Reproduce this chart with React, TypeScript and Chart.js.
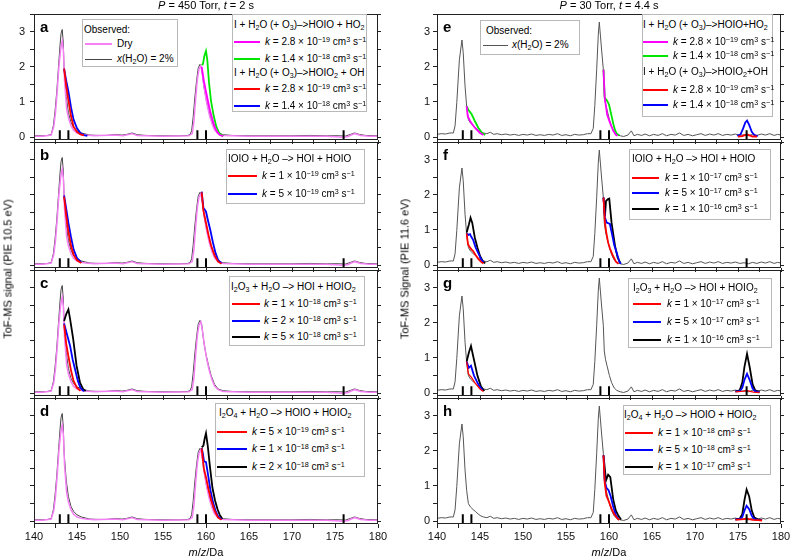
import React, { useEffect, useRef } from 'react';
import { Chart, registerables } from 'chart.js';

Chart.register(...registerables);
const FONT = '"Liberation Sans", Arial, Helvetica, sans-serif';
Chart.defaults.font.family = FONT;
Chart.defaults.font.size = 11;
Chart.defaults.color = '#111';

type Pt = [number, number];

// ---------- axis ticks ----------
const xTicks = [140, 142.5, 145, 147.5, 150, 152.5, 155, 157.5, 160, 162.5, 165, 167.5, 170, 172.5, 175, 177.5, 180];
const xTickLabels = ['140', '', '145', '', '150', '', '155', '', '160', '', '165', '', '170', '', '175', '', '180'];
const yTicks = [0, 0.5, 1, 1.5, 2, 2.5, 3, 3.5];
const yTickLabels = ['0', '', '1', '', '2', '', '3', ''];
const markerMasses = [143, 144, 159, 160, 176];

// ---------- observed spectra ----------
const leftWet: Pt[] = [[140, 0.04], [141, 0.04], [141.6, 0.05], [142, 0.08], [142.25, 0.32], [142.45, 0.75], [142.64, 1.27], [142.85, 2.0], [143.02, 2.59], [143.15, 2.95], [143.28, 3.06], [143.4, 2.7], [143.5, 1.95], [143.75, 1.15], [144, 0.7], [144.3, 0.42], [144.6, 0.28], [145, 0.18], [145.5, 0.12], [146, 0.09], [146.5, 0.06], [147.5, 0.05], [148.5, 0.05], [149.5, 0.08], [150.2, 0.06], [150.8, 0.08], [151.4, 0.12], [152, 0.07], [153, 0.05], [155, 0.04], [157, 0.04], [157.9, 0.05], [158.15, 0.08], [158.33, 0.18], [158.5, 0.55], [158.72, 1.17], [158.9, 1.6], [159.1, 1.97], [159.3, 2.07], [159.5, 1.95], [159.75, 1.45], [160, 1.1], [160.3, 0.78], [160.6, 0.5], [161, 0.25], [161.4, 0.12], [162, 0.07], [163, 0.05], [165, 0.04], [168, 0.04], [170, 0.04], [172, 0.05], [174, 0.04], [175.5, 0.04], [176.2, 0.03], [176.8, 0.08], [177.3, 0.12], [177.8, 0.08], [178.5, 0.05], [180, 0.04]];
const leftDry: Pt[] = [[140, 0.03], [141, 0.03], [142, 0.06], [142.3, 0.3], [142.5, 0.7], [142.7, 1.3], [142.9, 2.0], [143.1, 2.5], [143.28, 2.73], [143.42, 2.45], [143.55, 1.6], [143.8, 0.8], [144, 0.55], [144.3, 0.33], [144.6, 0.2], [145, 0.12], [145.5, 0.08], [146, 0.06], [147, 0.04], [149.5, 0.06], [150.3, 0.04], [151.4, 0.1], [152, 0.05], [155, 0.03], [158, 0.04], [158.4, 0.1], [158.6, 0.45], [158.8, 1.1], [159, 1.65], [159.2, 1.95], [159.4, 2.03], [159.6, 1.75], [159.85, 1.3], [160.1, 0.95], [160.4, 0.62], [160.7, 0.38], [161, 0.2], [161.4, 0.1], [162, 0.05], [165, 0.03], [170, 0.03], [174, 0.03], [176, 0.0], [176.5, 0.02], [177.3, 0.1], [178, 0.05], [179, 0.03], [180, 0.03]];
const rightWet: Pt[] = [[140, 0.08], [140.5, 0.1], [141, 0.09], [141.5, 0.12], [141.9, 0.12], [142.1, 0.32], [142.3, 0.98], [142.6, 2.2], [142.9, 2.76], [143.05, 2.4], [143.26, 1.45], [143.45, 0.87], [143.65, 0.5], [143.9, 0.4], [144.2, 0.33], [144.5, 0.27], [144.8, 0.2], [145.1, 0.15], [145.4, 0.12], [145.8, 0.1], [146.2, 0.14], [146.6, 0.08], [147, 0.1], [147.5, 0.07], [148, 0.09], [148.5, 0.06], [149, 0.08], [149.5, 0.05], [150, 0.08], [150.5, 0.06], [151, 0.09], [151.5, 0.05], [152, 0.07], [152.5, 0.05], [153, 0.08], [153.5, 0.06], [154, 0.1], [154.5, 0.05], [155, 0.07], [155.5, 0.04], [156, 0.08], [156.5, 0.06], [157, 0.07], [157.5, 0.1], [157.9, 0.1], [158.17, 0.25], [158.35, 0.9], [158.57, 1.93], [158.75, 2.9], [158.87, 3.27], [159.0, 2.9], [159.15, 2.45], [159.34, 1.93], [159.45, 1.2], [159.6, 0.95], [159.8, 0.75], [160.05, 0.5], [160.3, 0.3], [160.6, 0.15], [160.9, 0.08], [161.3, 0.04], [161.7, 0.02], [162.2, 0.06], [162.6, 0.18], [162.9, 0.04], [163.3, 0.08], [163.8, 0.05], [164.2, 0.09], [164.7, 0.04], [165.2, 0.08], [165.7, 0.05], [166.2, 0.1], [166.7, 0.04], [167.2, 0.08], [167.7, 0.06], [168.2, 0.12], [168.7, 0.05], [169.2, 0.08], [169.7, 0.04], [170.2, 0.07], [170.7, 0.1], [171.2, 0.05], [171.7, 0.09], [172.2, 0.06], [172.7, 0.1], [173.2, 0.05], [173.7, 0.08], [174.2, 0.06], [174.7, 0.09], [175.2, 0.05], [175.7, 0.07], [176.2, 0.04], [176.7, 0.08], [177.2, 0.05], [177.7, 0.09], [178.2, 0.06], [178.7, 0.1], [179.2, 0.05], [179.6, 0.08], [180, 0.06]];

// ---------- model curves, 450 Torr ----------
const aMagenta: Pt[] = [[159.5, 2.0], [159.75, 1.6], [160, 1.3], [160.25, 1.0], [160.5, 0.72], [160.75, 0.5], [161, 0.3], [161.3, 0.15], [161.6, 0.06], [162, 0.03]];
const aGreen: Pt[] = [[159.5, 2.05], [159.65, 2.08], [159.8, 2.3], [160, 2.45], [160.15, 2.2], [160.35, 1.55], [160.6, 1.0], [160.9, 0.6], [161.2, 0.3], [161.5, 0.14], [161.8, 0.06], [162, 0.03]];
const aRed: Pt[] = [[143.5, 1.95], [143.75, 1.45], [144, 1.05], [144.3, 0.6], [144.6, 0.3], [145, 0.15], [145.4, 0.08], [145.8, 0.05]];
const aBlue: Pt[] = [[143.5, 1.95], [143.75, 1.6], [144, 1.3], [144.3, 0.85], [144.6, 0.5], [145, 0.25], [145.4, 0.12], [145.8, 0.06], [146.2, 0.04]];
const bRed1: Pt[] = [[143.5, 1.95], [143.75, 1.4], [144, 0.95], [144.3, 0.55], [144.6, 0.3], [145, 0.14], [145.5, 0.06]];
const bBlue1: Pt[] = [[143.5, 1.98], [143.75, 1.6], [144, 1.2], [144.3, 0.8], [144.6, 0.45], [145, 0.2], [145.5, 0.08]];
const bRed2: Pt[] = [[159.5, 2.07], [159.7, 1.55], [160, 1.2], [160.3, 0.85], [160.6, 0.55], [161, 0.28], [161.4, 0.1], [161.8, 0.04]];
const bBlue2: Pt[] = [[159.5, 2.09], [159.7, 1.62], [159.85, 1.58], [160, 1.52], [160.25, 1.25], [160.5, 1.0], [160.8, 0.65], [161.1, 0.35], [161.4, 0.15], [161.8, 0.05]];
const cRed: Pt[] = [[143.5, 1.95], [143.75, 1.4], [144, 1.05], [144.3, 0.65], [144.6, 0.35], [145, 0.15], [145.4, 0.07]];
const cBlue: Pt[] = [[143.5, 1.98], [143.8, 1.7], [144.2, 1.34], [144.5, 0.95], [144.8, 0.65], [145.1, 0.35], [145.4, 0.15], [145.8, 0.05]];
const cBlack: Pt[] = [[143.5, 2.05], [143.75, 2.25], [144, 2.38], [144.2, 2.1], [144.55, 1.55], [144.95, 0.78], [145.35, 0.3], [145.7, 0.12], [146, 0.06]];
const dRed: Pt[] = [[159.5, 2.07], [159.75, 1.5], [160, 1.25], [160.3, 0.9], [160.6, 0.6], [161, 0.3], [161.4, 0.1], [161.8, 0.04]];
const dBlue: Pt[] = [[159.5, 2.08], [159.65, 1.9], [159.77, 1.7], [160, 1.68], [160.25, 1.3], [160.5, 0.9], [160.8, 0.55], [161.1, 0.3], [161.4, 0.14], [161.8, 0.05]];
const dBlack: Pt[] = [[159.5, 2.1], [159.7, 2.15], [159.85, 2.35], [160, 2.5], [160.2, 2.15], [160.47, 1.52], [160.75, 0.95], [161.05, 0.59], [161.35, 0.33], [161.6, 0.18], [161.9, 0.06]];

// ---------- model curves, 30 Torr ----------
const eMagenta1: Pt[] = [[143.45, 0.88], [143.57, 0.6], [143.84, 0.46], [144.0, 0.4], [144.4, 0.27], [145, 0.12], [145.4, 0.06]];
const eGreen1: Pt[] = [[143.45, 0.88], [143.64, 0.78], [144.03, 0.65], [144.4, 0.46], [144.8, 0.27], [145.2, 0.13], [145.6, 0.06]];
const eMagenta2: Pt[] = [[159.36, 1.92], [159.5, 1.12], [159.8, 0.62], [160.1, 0.42], [160.5, 0.18], [160.8, 0.07], [161, 0.04]];
const eGreen2: Pt[] = [[159.36, 1.92], [159.5, 1.12], [159.75, 1.05], [160, 0.93], [160.3, 0.6], [160.5, 0.38], [160.7, 0.2], [160.9, 0.1], [161.2, 0.05]];
const eRed3: Pt[] = [[175.0, 0.02], [175.5, 0.03], [175.8, 0.06], [176.05, 0.08], [176.35, 0.05], [176.7, 0.02], [177.2, 0.02]];
const eBlue3: Pt[] = [[174.9, 0.04], [175.3, 0.08], [175.6, 0.25], [175.85, 0.42], [176.05, 0.47], [176.3, 0.35], [176.6, 0.15], [176.9, 0.06], [177.3, 0.03]];
const fRed1: Pt[] = [[143.45, 0.9], [143.6, 0.6], [143.75, 0.53], [144.0, 0.45], [144.2, 0.4], [144.5, 0.28], [144.8, 0.18], [145.1, 0.1], [145.4, 0.05]];
const fBlue1: Pt[] = [[143.45, 0.9], [143.65, 0.86], [143.84, 0.88], [144.0, 0.8], [144.2, 0.72], [144.5, 0.5], [144.8, 0.34], [145.1, 0.18], [145.4, 0.08]];
const fBlack1: Pt[] = [[143.45, 0.93], [143.7, 1.15], [143.9, 1.35], [144.1, 1.2], [144.4, 0.78], [144.7, 0.5], [145, 0.26], [145.3, 0.12], [145.6, 0.05]];
const fRed2: Pt[] = [[159.36, 1.92], [159.53, 1.21], [159.7, 0.9], [159.9, 0.64], [160.1, 0.48], [160.4, 0.3], [160.8, 0.1], [161.1, 0.04]];
const fBlue2: Pt[] = [[159.36, 1.92], [159.53, 1.35], [159.73, 1.21], [160.1, 1.17], [160.4, 0.83], [160.6, 0.58], [160.9, 0.35], [161.2, 0.1], [161.4, 0.04]];
const fBlack2: Pt[] = [[159.36, 1.92], [159.53, 1.4], [159.65, 1.82], [159.85, 1.87], [160.03, 1.89], [160.3, 1.2], [160.7, 0.55], [161, 0.22], [161.3, 0.07]];
const gRed1: Pt[] = [[143.45, 0.9], [143.65, 0.55], [144, 0.45], [144.4, 0.3], [145, 0.12], [145.4, 0.05]];
const gBlue1: Pt[] = [[143.45, 0.9], [143.7, 0.72], [143.95, 0.78], [144.3, 0.5], [144.8, 0.25], [145.3, 0.08]];
const gBlack1: Pt[] = [[143.45, 0.9], [143.7, 1.15], [143.95, 1.34], [144.3, 0.95], [144.7, 0.5], [145.1, 0.2], [145.5, 0.06]];
const gRed3: Pt[] = [[174.7, 0.04], [175.3, 0.05], [175.7, 0.06], [176.05, 0.08], [176.4, 0.05], [176.8, 0.03], [177.5, 0.02]];
const gBlue3: Pt[] = [[174.7, 0.05], [175.2, 0.06], [175.5, 0.15], [175.75, 0.38], [176.05, 0.55], [176.35, 0.38], [176.7, 0.13], [177, 0.05], [177.5, 0.03]];
const gBlack3: Pt[] = [[174.7, 0.05], [175.2, 0.08], [175.5, 0.3], [175.75, 0.75], [176.05, 1.12], [176.35, 0.75], [176.7, 0.25], [177, 0.08], [177.5, 0.04]];
const hRed2: Pt[] = [[159.36, 1.87], [159.5, 1.1], [159.7, 0.72], [160, 0.55], [160.3, 0.35], [160.6, 0.2], [161, 0.07], [161.2, 0.03]];
const hBlue2: Pt[] = [[159.36, 1.87], [159.5, 1.15], [159.7, 0.95], [159.95, 0.88], [160.2, 0.7], [160.5, 0.4], [160.8, 0.18], [161.1, 0.06]];
const hBlack2: Pt[] = [[159.36, 1.87], [159.65, 1.16], [159.9, 1.32], [160.15, 1.25], [160.5, 0.6], [160.8, 0.3], [161.1, 0.15], [161.4, 0.05]];
const hRed3: Pt[] = [[174.7, 0.04], [175.3, 0.05], [175.7, 0.06], [176.0, 0.08], [176.3, 0.06], [176.7, 0.04], [177.3, 0.03], [177.8, 0.02]];
const hBlue3: Pt[] = [[174.7, 0.05], [175.2, 0.06], [175.5, 0.12], [175.75, 0.3], [176.0, 0.44], [176.3, 0.34], [176.6, 0.15], [176.9, 0.06], [177.3, 0.04], [177.8, 0.03]];
const hBlack3: Pt[] = [[174.7, 0.05], [175.2, 0.07], [175.5, 0.2], [175.75, 0.6], [176.0, 0.9], [176.3, 0.7], [176.6, 0.3], [176.9, 0.1], [177.3, 0.05], [177.8, 0.03]];

// ---------- styling ----------
const RED = '#ff0000';
const BLUE = '#0000ff';
const BLACK = '#000000';
const MAGENTA = '#ff00ff';
const GREEN = '#00e600';
const PINK = '#f580f5';
const GRAY_L = '#444444';
const GRAY_R = '#555555';
const LW = 1.8;

const PW = 344;
const PH = 126;
const L = 34;
const T = 12;
const R = 14;
const B = 12;
const BB = 26;
const Y_MIN = -0.08;
const Y_MAX = 3.5;
const ROWS = [14, 142, 270, 398];
const LEFT_X = 34;
const RIGHT_X = 437;

type S = { d: Pt[]; c: string; w?: number };

const framePlugin = {
  id: 'frame',
  afterDraw(chart: any) {
    const { ctx, chartArea: a } = chart;
    ctx.save();
    ctx.strokeStyle = '#222';
    ctx.lineWidth = 1;
    ctx.strokeRect(Math.round(a.left) + 0.5, Math.round(a.top) + 0.5, Math.round(a.right - a.left) - 1, Math.round(a.bottom - a.top) - 1);
    ctx.restore();
  },
};

function Panel({ plotX, plotY, showX, showY, yPad, series }: { plotX: number; plotY: number; showX: boolean; showY: boolean; yPad: number; series: S[] }) {
  const ref = useRef<HTMLCanvasElement>(null);
  const W = L + PW + R;
  const H = T + PH + (showX ? BB : B);
  useEffect(() => {
    const markerData: any[] = [];
    markerMasses.forEach((m) => {
      markerData.push({ x: m, y: Y_MIN }, { x: m, y: 0.2 }, { x: m, y: null });
    });
    const datasets: any[] = [
      { data: markerData, borderColor: BLACK, borderWidth: 2, pointRadius: 0, spanGaps: false },
      ...series.map((s) => ({
        data: s.d.map(([x, y]) => ({ x, y })),
        borderColor: s.c,
        borderWidth: s.w ?? LW,
        pointRadius: 0,
        tension: 0,
        fill: false,
      })),
    ];
    const tickGrid = { drawOnChartArea: false, drawTicks: true, tickLength: 4, color: '#222', lineWidth: 1 };
    const chart = new Chart(ref.current as HTMLCanvasElement, {
      type: 'line',
      data: { datasets },
      options: {
        animation: false,
        responsive: false,
        devicePixelRatio: 1,
        events: [],
        layout: { padding: { top: T, right: R - 4, left: 0, bottom: 0 } },
        plugins: { legend: { display: false }, tooltip: { enabled: false } },
        elements: { point: { radius: 0 }, line: { tension: 0 } },
        scales: {
          x: {
            type: 'linear',
            min: 140,
            max: 180,
            afterBuildTicks: (s: any) => { s.ticks = xTicks.map((v) => ({ value: v })); },
            afterFit: (s: any) => { s.height = showX ? BB : B; },
            ticks: { display: showX, autoSkip: false, maxRotation: 0, padding: 2, color: '#111', font: { size: 11 }, callback: (_v: any, i: number) => xTickLabels[i] },
            grid: tickGrid,
            border: { display: false },
          },
          y: {
            type: 'linear',
            min: Y_MIN,
            max: Y_MAX,
            afterBuildTicks: (s: any) => { s.ticks = yTicks.map((v) => ({ value: v })); },
            afterFit: (s: any) => { s.width = L; },
            ticks: { display: showY, autoSkip: false, padding: yPad, color: '#111', font: { size: 11 }, callback: (_v: any, i: number) => yTickLabels[i] },
            grid: tickGrid,
            border: { display: false },
          },
          y2: {
            type: 'linear',
            position: 'right',
            min: Y_MIN,
            max: Y_MAX,
            afterBuildTicks: (s: any) => { s.ticks = yTicks.map((v) => ({ value: v })); },
            afterFit: (s: any) => { s.width = 4; },
            ticks: { display: false },
            grid: { ...tickGrid, tickLength: 3 },
            border: { display: false },
          },
        },
      } as any,
      plugins: [framePlugin],
    });
    return () => chart.destroy();
  }, []);
  return <canvas ref={ref} width={W} height={H} style={{ position: 'absolute', left: plotX - L, top: plotY - T, width: W, height: H }} />;
}

const leftSeries = (m: S[]): S[] => [...m, { d: leftDry, c: PINK, w: 1.5 }, { d: leftWet, c: GRAY_L, w: 1 }];
const rightSeries = (m: S[]): S[] => [...m, { d: rightWet, c: GRAY_R, w: 1 }];

const PANELS = [
  { id: 'a', plotX: LEFT_X, plotY: ROWS[0], showX: false, showY: true, yPad: 5, series: leftSeries([{ d: aRed, c: RED }, { d: aBlue, c: BLUE }, { d: aMagenta, c: MAGENTA }, { d: aGreen, c: GREEN }]) },
  { id: 'b', plotX: LEFT_X, plotY: ROWS[1], showX: false, showY: false, yPad: 5, series: leftSeries([{ d: bRed1, c: RED }, { d: bBlue1, c: BLUE }, { d: bRed2, c: RED }, { d: bBlue2, c: BLUE }]) },
  { id: 'c', plotX: LEFT_X, plotY: ROWS[2], showX: false, showY: false, yPad: 5, series: leftSeries([{ d: cRed, c: RED }, { d: cBlue, c: BLUE }, { d: cBlack, c: BLACK }]) },
  { id: 'd', plotX: LEFT_X, plotY: ROWS[3], showX: true, showY: false, yPad: 5, series: leftSeries([{ d: dRed, c: RED }, { d: dBlue, c: BLUE }, { d: dBlack, c: BLACK }]) },
  { id: 'e', plotX: RIGHT_X, plotY: ROWS[0], showX: false, showY: true, yPad: 3, series: rightSeries([{ d: eMagenta1, c: MAGENTA }, { d: eGreen1, c: GREEN }, { d: eMagenta2, c: MAGENTA }, { d: eGreen2, c: GREEN }, { d: eRed3, c: RED }, { d: eBlue3, c: BLUE }]) },
  { id: 'f', plotX: RIGHT_X, plotY: ROWS[1], showX: false, showY: true, yPad: 3, series: rightSeries([{ d: fRed1, c: RED }, { d: fBlue1, c: BLUE }, { d: fBlack1, c: BLACK }, { d: fRed2, c: RED }, { d: fBlue2, c: BLUE }, { d: fBlack2, c: BLACK }]) },
  { id: 'g', plotX: RIGHT_X, plotY: ROWS[2], showX: false, showY: true, yPad: 3, series: rightSeries([{ d: gRed1, c: RED, w: 1.3 }, { d: gBlue1, c: BLUE }, { d: gBlack1, c: BLACK }, { d: gRed3, c: RED, w: 1.3 }, { d: gBlue3, c: BLUE }, { d: gBlack3, c: BLACK }]) },
  { id: 'h', plotX: RIGHT_X, plotY: ROWS[3], showX: true, showY: true, yPad: 3, series: rightSeries([{ d: hRed2, c: RED }, { d: hBlue2, c: BLUE }, { d: hBlack2, c: BLACK }, { d: hRed3, c: RED }, { d: hBlue3, c: BLUE }, { d: hBlack3, c: BLACK }]) },
];

// ---------- text helpers ----------
const Sub = ({ children }: { children: any }) => <span style={{ fontSize: '0.72em', position: 'relative', top: '0.3em' }}>{children}</span>;
const Sup = ({ children }: { children: any }) => <span style={{ fontSize: '0.72em', position: 'relative', top: '-0.45em' }}>{children}</span>;
const K = ({ m, e }: { m: string; e: string }) => (
  <>
    <i>k</i> = {m} × 10<Sup>−{e}</Sup> cm<Sup>3</Sup> s<Sup>−1</Sup>
  </>
);
const H2O = () => (<>H<Sub>2</Sub>O</>);
const XH2O = () => (<><i>x</i>(<H2O />) = 2%</>);

type LRow = { y: number; text: any; color?: string; lw?: number };
function LegendBox({ box, lineX, textX, titleX, rows }: { box: number[]; lineX: number[]; textX: number; titleX: number; rows: LRow[] }) {
  const [x, y, w, h] = box;
  return (
    <div style={{ position: 'absolute', left: x, top: y, width: w, height: h, border: '1px solid #b8b8b8', background: '#fff', boxSizing: 'border-box' }}>
      {rows.map((r, i) => (
        <React.Fragment key={i}>
          {r.color && <div style={{ position: 'absolute', left: lineX[0] - x - 1, top: r.y - y - 1 - (r.lw ?? 2) / 2, width: lineX[1] - lineX[0], height: r.lw ?? 2, background: r.color }} />}
          <div style={{ position: 'absolute', left: (r.color ? textX : titleX) - x - 1, top: r.y - y - 8, lineHeight: '14px', fontSize: 10, whiteSpace: 'nowrap' }}>{r.text}</div>
        </React.Fragment>
      ))}
    </div>
  );
}

const TA1 = <>I + <H2O /> (+ O<Sub>3</Sub>)–&gt;HOIO + HO<Sub>2</Sub></>;
const TA2 = <>I + <H2O /> (+ O<Sub>3</Sub>)–&gt;HOIO<Sub>2</Sub> + OH</>;
const TE1 = <>I + <H2O /> (+ O<Sub>3</Sub>)–&gt;HOIO+HO<Sub>2</Sub></>;
const TE2 = <>I + <H2O /> (+ O<Sub>3</Sub>)–&gt;HOIO<Sub>2</Sub>+OH</>;
const TB = <>IOIO + <H2O /> –&gt; HOI + HOIO</>;
const TC = <>I<Sub>2</Sub>O<Sub>3</Sub> + <H2O /> –&gt; HOI + HOIO<Sub>2</Sub></>;
const TD = <>I<Sub>2</Sub>O<Sub>4</Sub> + <H2O /> –&gt; HOIO + HOIO<Sub>2</Sub></>;

const LETTERS = [
  ['a', LEFT_X, ROWS[0]], ['b', LEFT_X, ROWS[1]], ['c', LEFT_X, ROWS[2]], ['d', LEFT_X, ROWS[3]],
  ['e', RIGHT_X, ROWS[0]], ['f', RIGHT_X, ROWS[1]], ['g', RIGHT_X, ROWS[2]], ['h', RIGHT_X, ROWS[3]],
] as [string, number, number][];

const centered = (cx: number, cy: number, content: any, extra: any = {}) => (
  <div style={{ position: 'absolute', left: cx, top: cy, transform: 'translate(-50%, -50%)', whiteSpace: 'nowrap', fontSize: 11, lineHeight: '13px', fontWeight: 'normal', ...extra }}>{content}</div>
);

export default function App() {
  return (
    <div style={{ position: 'absolute', left: 0, top: 0, width: 791, height: 559, background: '#fff', overflow: 'hidden', fontFamily: FONT, color: '#000' }}>
      {PANELS.map((p) => (
        <Panel key={p.id} plotX={p.plotX} plotY={p.plotY} showX={p.showX} showY={p.showY} yPad={p.yPad} series={p.series} />
      ))}

      {LETTERS.map(([t, x, y]) => (
        <div key={t} style={{ position: 'absolute', left: x + 6, top: y + 5, fontSize: 15, lineHeight: '15px', fontWeight: 'bold' }}>{t}</div>
      ))}

      {centered(206, 5, <><i>P</i> = 450 Torr, <i>t</i> = 2 s</>)}
      {centered(609, 5, <><i>P</i> = 30 Torr, <i>t</i> = 4.4 s</>)}
      {centered(206, 552, <><i>m</i>/<i>z</i>/Da</>)}
      {centered(609, 552, <><i>m</i>/<i>z</i>/Da</>)}
      {centered(8, 269, 'ToF-MS signal (PIE 10.5 eV)', { transform: 'translate(-50%, -50%) rotate(-90deg)' })}
      {centered(405, 269, 'ToF-MS Signal (PIE 11.6 eV)', { transform: 'translate(-50%, -50%) rotate(-90deg)' })}

      <LegendBox box={[82, 19, 96, 48]} lineX={[85, 112]} textX={117} titleX={84} rows={[
        { y: 30, text: 'Observed:' },
        { y: 44, color: PINK, text: 'Dry' },
        { y: 59, color: GRAY_L, lw: 1, text: <XH2O /> },
      ]} />
      <LegendBox box={[232, 14, 135, 98]} lineX={[234, 260]} textX={265} titleX={234} rows={[
        { y: 25, text: TA1 },
        { y: 42, color: MAGENTA, text: <K m="2.8" e="19" /> },
        { y: 59, color: GREEN, text: <K m="1.4" e="18" /> },
        { y: 73, text: TA2 },
        { y: 89, color: RED, text: <K m="2.8" e="19" /> },
        { y: 106, color: BLUE, text: <K m="1.4" e="18" /> },
      ]} />
      <LegendBox box={[226, 149, 139, 55]} lineX={[228, 257]} textX={262} titleX={228} rows={[
        { y: 159, text: TB },
        { y: 176, color: RED, text: <K m="1" e="19" /> },
        { y: 194, color: BLUE, text: <K m="5" e="19" /> },
      ]} />
      <LegendBox box={[229, 276, 136, 70]} lineX={[232, 260]} textX={264} titleX={231} rows={[
        { y: 287, text: TC },
        { y: 304, color: RED, text: <K m="1" e="18" /> },
        { y: 321, color: BLUE, text: <K m="2" e="18" /> },
        { y: 337, color: BLACK, text: <K m="5" e="18" /> },
      ]} />
      <LegendBox box={[215, 403, 150, 74]} lineX={[217, 247]} textX={252} titleX={219} rows={[
        { y: 413, text: TD },
        { y: 432, color: RED, text: <K m="5" e="19" /> },
        { y: 449, color: BLUE, text: <K m="1" e="18" /> },
        { y: 467, color: BLACK, text: <K m="2" e="18" /> },
      ]} />

      <LegendBox box={[480, 20, 100, 35]} lineX={[483, 508]} textX={512} titleX={486} rows={[
        { y: 31, text: 'Observed:' },
        { y: 45, color: GRAY_R, lw: 1, text: <XH2O /> },
      ]} />
      <LegendBox box={[642, 14, 131, 103]} lineX={[643, 668]} textX={673} titleX={643} rows={[
        { y: 25, text: TE1 },
        { y: 42, color: MAGENTA, text: <K m="2.8" e="19" /> },
        { y: 56, color: GREEN, text: <K m="1.4" e="18" /> },
        { y: 72, text: TE2 },
        { y: 90, color: RED, text: <K m="2.8" e="19" /> },
        { y: 105, color: BLUE, text: <K m="1.4" e="18" /> },
      ]} />
      <LegendBox box={[629, 149, 142, 71]} lineX={[632, 659]} textX={665} titleX={632} rows={[
        { y: 159, text: TB },
        { y: 178, color: RED, text: <K m="1" e="17" /> },
        { y: 193, color: BLUE, text: <K m="5" e="17" /> },
        { y: 209, color: BLACK, text: <K m="1" e="16" /> },
      ]} />
      <LegendBox box={[628, 278, 144, 70]} lineX={[633, 661]} textX={667} titleX={633} rows={[
        { y: 288, text: TC },
        { y: 304, color: RED, lw: 1.3, text: <K m="1" e="17" /> },
        { y: 322, color: BLUE, text: <K m="5" e="17" /> },
        { y: 340, color: BLACK, text: <K m="1" e="16" /> },
      ]} />
      <LegendBox box={[623, 405, 148, 70]} lineX={[625, 653]} textX={658} titleX={624} rows={[
        { y: 415, text: TD },
        { y: 433, color: RED, text: <K m="1" e="18" /> },
        { y: 450, color: BLUE, text: <K m="5" e="18" /> },
        { y: 467, color: BLACK, text: <K m="1" e="17" /> },
      ]} />
    </div>
  );
}
